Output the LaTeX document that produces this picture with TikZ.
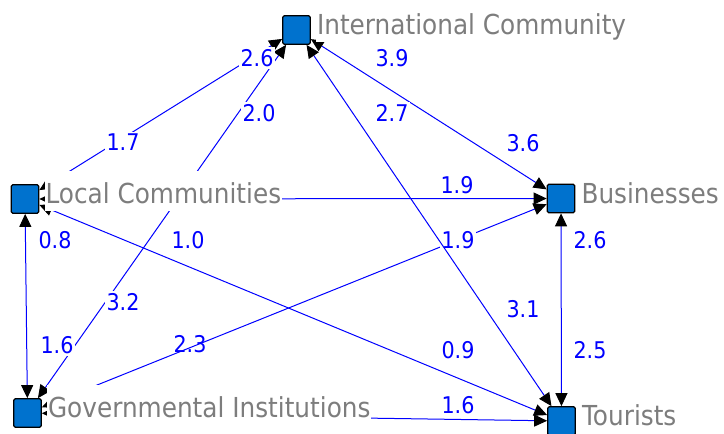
\documentclass[tikz,border=0pt]{standalone}
\usepackage{fontspec}
\setmainfont{DejaVu Sans}[FakeStretch=0.9]
\usepackage{xcolor}
\definecolor{nodefill}{RGB}{0, 114, 206}
\definecolor{labelgray}{RGB}{125, 125, 125}
\definecolor{tieblue}{RGB}{0, 0, 255}
\usetikzlibrary{arrows.meta, positioning}

\tikzset{
	actor/.style={draw=black, line width=1.2pt, fill=nodefill, rounded corners=1.5pt,
		minimum width=27.5pt, minimum height=28.5pt, inner sep=0pt},
	actorname/.style={fill=white, text=labelgray, font=\fontsize{27.5}{30}\selectfont,
		inner sep=1pt, text height=32pt, text depth=6pt},
	tie/.style={draw=tieblue, line width=1pt,
		{Triangle[length=13pt, width=12pt, color=black]}-{Triangle[length=13pt, width=12pt, color=black]}},
	weight/.style={text=tieblue, font=\fontsize{23}{25}\selectfont, inner sep=2pt, fill=white},
}

\begin{document}
\begin{tikzpicture}[x=1pt, y=-1pt]
		\useasboundingbox (0,0) rectangle (724,434);
		% actors
		\node[actor] (ic) at (296.5,30) {};
		\node[actor] (lc) at (25,199) {};
		\node[actor] (gi) at (27.5,413) {};
		\node[actor] (bu) at (561,198.5) {};
		\node[actor] (to) at (561.5,421) {};
		% ties
		\draw[tie] (lc) -- (ic);
		\draw[tie] (gi) -- (ic);
		\draw[tie] (ic) -- (bu);
		\draw[tie] (lc) -- (bu);
		\draw[tie] (lc) -- (gi);
		\draw[tie] (lc) -- (to);
		\draw[tie] (gi) -- (bu);
		\draw[tie] (gi) -- (to);
		\draw[tie] (bu) -- (to);
		% names
		\node[actorname, right=5pt of ic, yshift=8.5pt] (ic-name) {International Community};
		\node[actorname, right=5pt of lc, yshift=8.5pt] (lc-name) {Local Communities};
		\node[actorname, right=5pt of gi, yshift=8.5pt] (gi-name) {Governmental Institutions};
		\node[actorname, right=5pt of bu, yshift=8.5pt] (bu-name) {Businesses};
		\node[actorname, right=5pt of to, yshift=8.5pt] (to-name) {Tourists};
		% weights
		\node[weight] (w-lc-ic) at (123,142) {1.7};
		\node[weight] (w-ic-lc) at (257,58) {2.6};
		\node[weight] (w-gi-ic) at (123,302) {3.2};
		\node[weight] (w-ic-gi) at (259,113) {2.0};
		\node[weight] (w-ic-bu) at (392,58) {3.9};
		\node[weight] (w-bu-ic) at (523,143) {3.6};
		\node[weight] (w-ic-to) at (392,113) {2.7};
		\node[weight] (w-to-ic) at (523,309) {3.1};
		\node[weight] (w-lc-bu) at (457,185) {1.9};
		\node[weight] (w-lc-gi) at (55,240) {0.8};
		\node[weight] (w-gi-lc) at (57,345) {1.6};
		\node[weight] (w-lc-to) at (188,240) {1.0};
		\node[weight] (w-to-lc) at (458,350) {0.9};
		\node[weight, fill=none] (w-gi-bu) at (190,344) {2.3};
		\node[weight] (w-bu-gi) at (458,240) {1.9};
		\node[weight] (w-gi-to) at (458,405) {1.6};
		\node[weight] (w-bu-to) at (590,240) {2.6};
		\node[weight] (w-to-bu) at (590,350) {2.5};
		% drawn last, it crosses a weight
		\draw[tie] (ic) -- (to);
	\end{tikzpicture}
\end{document}
